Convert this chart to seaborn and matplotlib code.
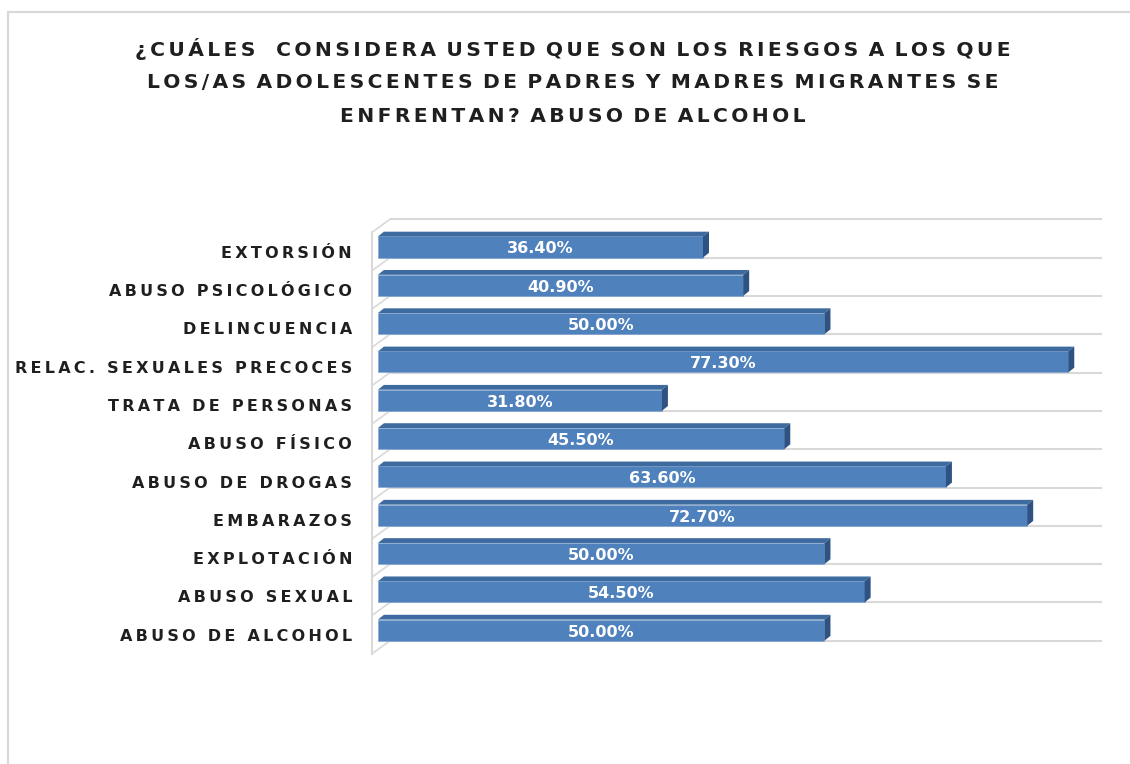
import matplotlib
matplotlib.use("Agg")
import matplotlib.pyplot as plt
from matplotlib.lines import Line2D
from matplotlib.patches import Polygon
import pandas as pd
import seaborn as sns

# Risks reported for adolescents whose parents migrated (% of respondents)
categories = [
    "EXTORSIÓN",
    "ABUSO PSICOLÓGICO",
    "DELINCUENCIA",
    "RELAC. SEXUALES PRECOCES",
    "TRATA DE PERSONAS",
    "ABUSO FÍSICO",
    "ABUSO DE DROGAS",
    "EMBARAZOS",
    "EXPLOTACIÓN",
    "ABUSO SEXUAL",
    "ABUSO DE ALCOHOL",
]
percentages = [36.4, 40.9, 50.0, 77.3, 31.8, 45.5, 63.6, 72.7, 50.0, 54.5, 50.0]

title_lines = [
    "¿CUÁLES  CONSIDERA USTED QUE SON LOS RIESGOS A LOS QUE",
    "LOS/AS ADOLESCENTES DE PADRES Y MADRES MIGRANTES SE",
    "ENFRENTAN? ABUSO DE ALCOHOL",
]

FRONT = "#4F81BD"
TOP = "#3D6A9F"
SIDE = "#2E5282"
GRID = "#D9D9D9"
INK = "#1F1F1F"
FONT = ["DejaVu Sans"]


def tracked(text, letter_gap, word_gap):
    """Spread the letters of a label apart, keeping words separated."""
    return word_gap.join(letter_gap.join(w) for w in text.split(" "))


sns.set_theme(style="white")
plt.rcParams["font.family"] = FONT

W, H = 1130, 764
fig = plt.figure(figsize=(W / 100, H / 100), dpi=100)
fig.patch.set_facecolor("white")

# plot area: value 0 sits at x=378 px, 8.93 px per percentage point
ax = fig.add_axes([369 / W, 1 - 660 / H, 735 / W, 450 / H])
df = pd.DataFrame({"riesgo": categories, "porcentaje": percentages})
sns.barplot(
    data=df, x="porcentaje", y="riesgo", orient="h", color=FRONT,
    saturation=1, width=0.55, ax=ax, zorder=3, edgecolor="#7FA3D0", linewidth=0.4,
)
ax.set_xlim(-1.0, 81.3)
ax.set_ylim(10.78, -0.966)
ax.axis("off")

# pseudo-3D depth of each bar
dx, dy = 0.67, 0.125
for p in ax.patches:
    x0, y0, w, h = p.get_x(), p.get_y(), p.get_width(), p.get_height()
    ax.add_patch(Polygon([(x0, y0), (x0 + dx, y0 - dy), (x0 + w + dx, y0 - dy), (x0 + w, y0)],
                         closed=True, facecolor=TOP, edgecolor="none", zorder=3))
    ax.add_patch(Polygon([(x0 + w, y0), (x0 + w + dx, y0 - dy), (x0 + w + dx, y0 + h - dy), (x0 + w, y0 + h)],
                         closed=True, facecolor=SIDE, edgecolor="none", zorder=3))

# back wall gridlines and left wall
n = len(categories)
wall_x, back_x = -0.67, 1.34
for i in range(-1, n):
    g = i + 0.278
    ax.plot([back_x, 81.1], [g, g], color=GRID, lw=1.5, zorder=1, solid_capstyle="butt")
    ax.plot([wall_x, back_x], [g + 0.34, g], color=GRID, lw=1.2, zorder=1)
ax.plot([wall_x, wall_x], [-1 + 0.278 + 0.34, n - 1 + 0.278 + 0.34], color=GRID, lw=1.5, zorder=1)

# category labels and value labels
for i, (cat, val) in enumerate(zip(categories, percentages)):
    ax.text(-2.9, i + 0.16, tracked(cat, "\u2009", "\u2009 \u2009"), ha="right", va="center",
            fontsize=11.5, fontweight="bold", color=INK, clip_on=False)
    ax.text(val / 2, i + 0.05, f"{val:.2f}%", ha="center", va="center",
            fontsize=11.5, fontweight="bold", color="white", zorder=5)

# title
for k, y in enumerate([49, 83, 116]):
    fig.text(573 / W, 1 - y / H, tracked(title_lines[k], "\u2006", " \u2006"),
             ha="center", va="center", fontsize=14.6, fontweight="bold", color=INK)

# chart frame
fig.add_artist(Line2D([8 / W, 1], [1 - 12 / H, 1 - 12 / H], transform=fig.transFigure, color=GRID, lw=1.6))
fig.add_artist(Line2D([8 / W, 8 / W], [0, 1 - 12 / H], transform=fig.transFigure, color=GRID, lw=1.6))

fig.savefig("out.png", dpi=100, facecolor="white")
